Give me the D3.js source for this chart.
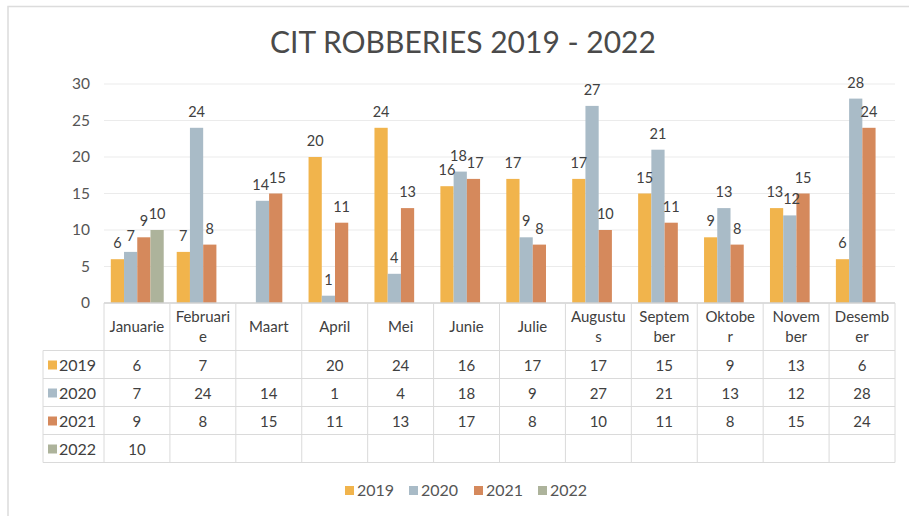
<!DOCTYPE html>
<html><head><meta charset="utf-8">
<script src="https://cdn.jsdelivr.net/npm/d3@7"></script>
<style>body{margin:0;background:#fff;} svg{display:block;font-family:Lato,"Open Sans",sans-serif;}</style>
</head><body>
<svg id="c" width="909" height="516"></svg>
<script>
const categories = ["Januarie","Februarie","Maart","April","Mei","Junie","Julie","Augustus","September","Oktober","November","Desember"];
const categoryLines = [["Januarie"],["Februari","e"],["Maart"],["April"],["Mei"],["Junie"],["Julie"],["Augustu","s"],["Septem","ber"],["Oktobe","r"],["Novem","ber"],["Desemb","er"]];
const seriesNames = ["2019","2020","2021","2022"];
const v2019 = [6,7,null,20,24,16,17,17,15,9,13,6];
const v2020 = [7,24,14,1,4,18,9,27,21,13,12,28];
const v2021 = [9,8,15,11,13,17,8,10,11,8,15,24];
const v2022 = [10,null,null,null,null,null,null,null,null,null,null,null];
const yTicks = [0,5,10,15,20,25,30];
const colors = ["#F1B44C","#A9BBC7","#D5895C","#ADB39B"];
const title = "CIT ROBBERIES 2019 - 2022";

(function(){
const series = [v2019,v2020,v2021,v2022];
const svg = d3.select("#c");

svg.append("path").attr("d","M8,516 L8,6.5 L909,6.5").attr("fill","none").attr("stroke","#dcdcdc").attr("stroke-width",1.5);

svg.append("text").attr("x",463).attr("y",53).attr("text-anchor","middle")
  .attr("font-size",30).attr("fill","#4a4a4a").text(title);

const pLeft=104, pRight=895, pTop=84, pBottom=303;
const x0 = d3.scaleBand().domain(categories).range([pLeft,pRight]).paddingInner(0).paddingOuter(0);
const bw = x0.bandwidth();
const x1 = d3.scaleBand().domain(seriesNames).range([6.8,bw-6.2]).padding(0);
const y = d3.scaleLinear().domain([0,30]).range([pBottom,pTop]);

svg.append("g").selectAll("line").data(yTicks.slice(1)).join("line")
  .attr("x1",pLeft).attr("x2",pRight).attr("y1",d=>y(d)).attr("y2",d=>y(d))
  .attr("stroke","#ebebeb").attr("stroke-width",1);

const yAxis = d3.axisLeft(y).tickValues(yTicks).tickSize(0).tickPadding(14);
const ga = svg.append("g").attr("transform",`translate(${pLeft},0)`).call(yAxis);
ga.select(".domain").remove();
ga.selectAll("text").attr("font-size",15.5).attr("fill","#555").attr("font-family","Lato,sans-serif");

const flat=[];
categories.forEach((c,i)=>series.forEach((s,j)=>{ if(s[i]!=null) flat.push({c,i,s:seriesNames[j],v:s[i],j}); }));
svg.append("g").selectAll("rect").data(flat).join("rect")
  .attr("x",d=>x0(d.c)+x1(d.s)).attr("width",x1.bandwidth())
  .attr("y",d=>y(d.v)).attr("height",d=>y(0)-y(d.v)).attr("fill",d=>colors[d.j]);

const fs=14.5;
flat.forEach(d=>{ d.lx=x0(d.c)+x1(d.s)+x1.bandwidth()/2; d.ly=y(d.v)-11; d.w=String(d.v).length*fs*0.56; });
categories.forEach(c=>{
  const L=flat.filter(d=>d.c===c);
  for(let it=0;it<6;it++){
    for(let k=1;k<L.length;k++){
      const a=L[k-1], b=L[k];
      if(Math.abs(a.ly-b.ly)<11){
        const need=(a.w+b.w)/2+0.5-(b.lx-a.lx);
        if(need>0){ a.lx-=need/2; b.lx+=need/2; }
      }
    }
  }
});
svg.append("g").selectAll("text").data(flat).join("text")
  .attr("x",d=>d.lx).attr("y",d=>d.ly)
  .attr("text-anchor","middle").attr("font-size",fs).attr("fill","#404040").text(d=>d.v);

const gridC="#dadada";
const hdrBottom=350.5, rowH=28, tblLeft=43;
const rowsY = seriesNames.map((s,i)=>hdrBottom+i*rowH);
const tableBottom = hdrBottom+seriesNames.length*rowH;
const t = svg.append("g");
t.append("line").attr("x1",pLeft).attr("x2",pRight).attr("y1",pBottom).attr("y2",pBottom).attr("stroke","#d0d0d0").attr("stroke-width",1.5);
const vx = categories.map(c=>x0(c)).concat([pRight]);
t.selectAll("line.v").data(vx).join("line").attr("class","v")
  .attr("x1",d=>d).attr("x2",d=>d).attr("y1",pBottom).attr("y2",tableBottom).attr("stroke",gridC);
t.append("line").attr("x1",tblLeft).attr("x2",tblLeft).attr("y1",hdrBottom).attr("y2",tableBottom).attr("stroke",gridC);
t.selectAll("line.h").data(rowsY.concat([tableBottom])).join("line").attr("class","h")
  .attr("x1",tblLeft).attr("x2",pRight).attr("y1",d=>d).attr("y2",d=>d).attr("stroke",gridC);
categories.forEach((c,i)=>{
  const lines=categoryLines[i];
  const cx=x0(c)+bw/2;
  if(lines.length===1){
    t.append("text").attr("text-anchor","middle").attr("font-size",15).attr("fill","#404040")
      .attr("x",cx).attr("y",(pBottom+hdrBottom)/2+5).text(lines[0]);
  } else {
    lines.forEach((ln,k)=>t.append("text").attr("text-anchor","middle").attr("font-size",15).attr("fill","#404040")
      .attr("x",cx).attr("y",322+k*20).text(ln));
  }
});
seriesNames.forEach((s,j)=>{
  const ry=rowsY[j];
  t.append("rect").attr("x",48).attr("y",ry+rowH/2-4).attr("width",9).attr("height",9).attr("fill",colors[j]);
  t.append("text").attr("x",59).attr("y",ry+rowH/2+6).attr("font-size",16).attr("fill","#404040").text(s);
  categories.forEach((c,i)=>{
    const v=series[j][i];
    if(v!=null) t.append("text").attr("x",x0(c)+bw/2).attr("y",ry+rowH/2+6).attr("text-anchor","middle")
      .attr("font-size",15).attr("fill","#404040").text(v);
  });
});

const lg = svg.append("g");
const lx=[345,409,474,538];
seriesNames.forEach((s,j)=>{
  lg.append("rect").attr("x",lx[j]).attr("y",486).attr("width",9).attr("height",9).attr("fill",colors[j]);
  lg.append("text").attr("x",lx[j]+12).attr("y",496).attr("font-size",16).attr("fill","#555").text(s);
});
})();
</script>
</body></html>
